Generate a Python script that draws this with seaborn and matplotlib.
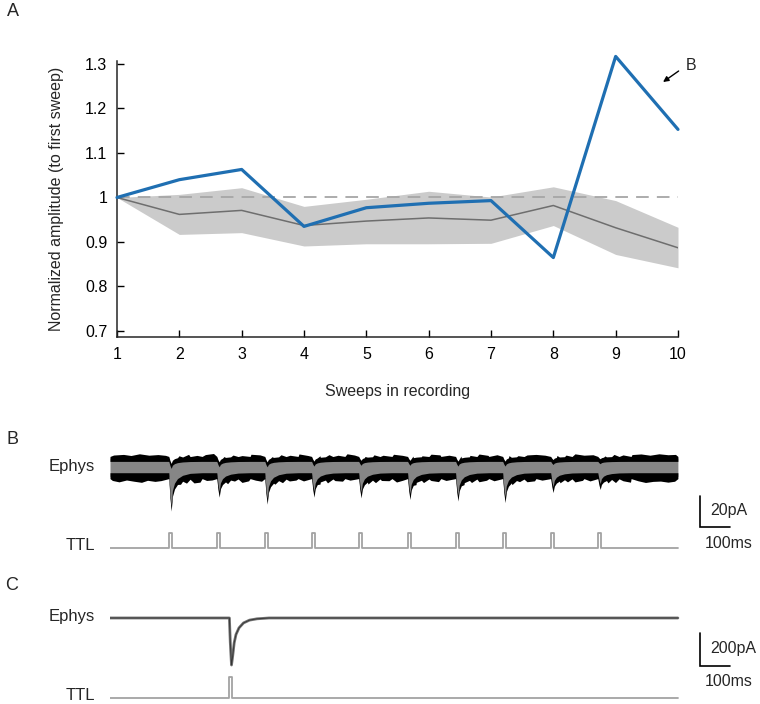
import numpy as np
import pandas as pd
import matplotlib
matplotlib.use("Agg")
import matplotlib.pyplot as plt
import seaborn as sns

sns.set_style("ticks")
plt.rcParams['font.family'] = ['Liberation Sans', 'DejaVu Sans']

# ---------------- data ----------------
sweeps = [1, 2, 3, 4, 5, 6, 7, 8, 9, 10]
example_amp = [1.0, 1.04, 1.063, 0.935, 0.977, 0.987, 0.993, 0.865, 1.317, 1.153]
mean_amp = [1.0, 0.962, 0.971, 0.937, 0.947, 0.954, 0.949, 0.982, 0.932, 0.887]
upper_amp = [1.0, 1.007, 1.022, 0.980, 0.996, 1.014, 1.001, 1.024, 0.993, 0.933]
lower_amp = [1.0, 0.917, 0.921, 0.891, 0.896, 0.896, 0.897, 0.937, 0.872, 0.842]
y_ticks = [0.7, 0.8, 0.9, 1.0, 1.1, 1.2, 1.3]
y_ticklabels = ["0.7", "0.8", "0.9", "1", "1.1", "1.2", "1.3"]

# panel B: train of 10 light pulses (ms) and peak of evoked dips (pA)
b_pulse_times = [197, 357, 517, 673, 830, 993, 1153, 1310, 1470, 1627]
b_dip_bottom = [21.0, 12.0, 16.5, 12.0, 12.5, 13.5, 14.5, 15.5, 9.0, 7.0]
b_dip_top = [4.5, 3.5, 3.5, 3.0, 2.5, 2.5, 3.0, 3.0, 2.0, 1.5]
b_top_level = 0.0       # pA, upper edge of overlaid sweeps
b_bottom_level = -11.9  # pA, lower edge of overlaid sweeps
b_duration = 1893       # ms
# dip time course (ms after pulse onset, fraction of peak)
dip_t = [-1, 3, 7, 11, 18, 28, 45, 70, 110]
dip_f = [0.0, 0.6, 1.0, 0.55, 0.32, 0.18, 0.08, 0.02, 0.0]
# noise excursions on the edges of the overlaid sweeps (ms, pA beyond the edge)
top_noise_t = [12, 45, 70, 98, 130, 160, 185, 230, 262, 290, 318, 345, 380, 410,
               440, 470, 500, 540, 570, 600, 630, 660, 700, 730, 760, 790, 815, 850,
               880, 910, 945, 975, 1010, 1040, 1070, 1100, 1130, 1170, 1200, 1230,
               1260, 1290, 1330, 1360, 1390, 1420, 1450, 1490, 1520, 1550, 1580, 1610,
               1650, 1680, 1710, 1740, 1770, 1800, 1830, 1860, 1885]
top_noise_h = [0.9, 1.3, 0.6, 1.7, 0.8, 1.2, 0.7, 1.1, 1.5, 0.7, 1.2, 1.9, 0.8, 1.1,
               0.6, 1.4, 1.0, 0.7, 1.3, 0.8, 1.6, 0.6, 1.0, 1.3, 0.8, 1.7, 0.9, 0.7,
               1.2, 0.8, 1.4, 0.7, 1.1, 0.6, 1.5, 1.0, 0.8, 1.3, 0.9, 1.6, 0.7, 1.1,
               1.4, 0.7, 1.0, 1.3, 0.8, 1.2, 1.0, 1.7, 0.8, 1.1, 0.7, 1.4, 1.0, 1.2,
               1.6, 0.8, 1.7, 1.1, 1.3]
bot_noise_t = [8, 30, 55, 80, 105, 125, 150, 170, 235, 255, 280, 300, 322, 340, 392,
               415, 440, 462, 485, 505, 550, 575, 598, 620, 645, 700, 725, 750, 775,
               800, 860, 885, 905, 930, 955, 975, 1020, 1045, 1070, 1095, 1120, 1180,
               1205, 1230, 1255, 1280, 1340, 1365, 1390, 1415, 1440, 1500, 1525, 1550,
               1575, 1600, 1660, 1685, 1710, 1735, 1760, 1785, 1810, 1835, 1860, 1882]
bot_noise_h = [1.2, 2.1, 0.9, 1.7, 2.4, 1.1, 1.8, 1.3, 1.1, 1.9, 2.5, 2.2, 1.2, 0.9,
               1.6, 1.0, 2.3, 1.4, 1.0, 1.7, 1.1, 1.8, 1.3, 0.9, 1.5, 1.2, 2.0, 1.1,
               1.6, 1.0, 1.4, 1.9, 1.0, 1.3, 2.2, 1.1, 1.3, 1.7, 1.0, 1.9, 1.2, 1.1,
               1.6, 1.8, 1.0, 1.4, 1.3, 1.1, 1.8, 1.4, 1.0, 1.2, 1.6, 2.0, 1.1, 1.5,
               1.7, 2.2, 1.3, 2.3, 1.4, 2.5, 1.8, 1.6, 2.3, 1.7]

# panel C: single pulse response
c_pulse_time = 397
c_t = [0, 398, 401, 405, 409, 414, 420, 430, 445, 465, 490, 530, 1893]
c_i = [0, 0, -150, -285, -230, -150, -100, -60, -30, -13, -5, 0, 0]
pulse_width = 10  # ms

# ---------------- layout helpers ----------------
W, H = 760, 704
fig = plt.figure(figsize=(W / 100, H / 100), dpi=100)


def ax_px(left, top, width, height):
    return fig.add_axes([left / W, 1 - (top + height) / H, width / W, height / H])


def ttl_trace(times, dur):
    t, v = [0], [0]
    for p in times:
        t += [p, p, p + pulse_width, p + pulse_width]
        v += [0, 1, 1, 0]
    t.append(dur)
    v.append(0)
    return t, v


FS = 11.5

# ---------------- panel A ----------------
axA = ax_px(117, 61, 561, 276)
axA.fill_between(sweeps, lower_amp, upper_amp, color="#cbcbcb", lw=0, zorder=1)
axA.plot([1, 10], [1, 1], color="#a6a6a6", lw=1.3, dashes=(7, 4.5), zorder=2)
dfA = pd.DataFrame({"sweep": sweeps, "mean": mean_amp, "example": example_amp})
sns.lineplot(data=dfA, x="sweep", y="mean", ax=axA, color="#6e6e6e", lw=1.1, zorder=3)
sns.lineplot(data=dfA, x="sweep", y="example", ax=axA, color="#1f6fb2", lw=2.3,
             zorder=4, clip_on=False)
axA.set_xlim(1, 10)
axA.set_ylim(0.6865, 1.3067)
axA.set_xticks(sweeps)
axA.set_yticks(y_ticks)
axA.set_yticklabels(y_ticklabels)
axA.tick_params(direction="in", length=5, width=1, labelsize=FS, pad=7, colors="black")
for s in ["top", "right"]:
    axA.spines[s].set_visible(False)
for s in ["left", "bottom"]:
    axA.spines[s].set_linewidth(1.1)
axA.set_xlabel("Sweeps in recording", fontsize=FS, labelpad=16)
axA.set_ylabel("Normalized amplitude (to first sweep)", fontsize=FS, labelpad=15)
axA.annotate("", xy=(9.76, 1.2595), xytext=(10.01, 1.2842),
             arrowprops=dict(arrowstyle="-|>", color="black", lw=1, mutation_scale=8,
                             shrinkA=0, shrinkB=0), annotation_clip=False)
axA.text(10.13, 1.2955, "B", fontsize=FS, ha="left", va="center", clip_on=False)

# ---------------- panel B ----------------
axB = ax_px(110, 440, 650, 90)
t_b = [0.0]
top_b = [b_top_level]
bot_b = [b_bottom_level]
for p, db, dt in zip(b_pulse_times, b_dip_bottom, b_dip_top):
    for tt, f in zip(dip_t, dip_f):
        t_b.append(p + tt)
        top_b.append(b_top_level - f * dt)
        bot_b.append(b_bottom_level - f * db)
t_b.append(b_duration)
top_b.append(b_top_level)
bot_b.append(b_bottom_level)
t_b = np.array(t_b)
top_b = np.array(top_b)
bot_b = np.array(bot_b)

# rough outer edges: envelope points merged with the noise excursions
t_top = np.array(sorted(set(t_b.tolist()) | set(top_noise_t)), dtype=float)
top_c = np.interp(t_top, t_b, top_b)
top_out = top_c + 1.0
idx = np.searchsorted(t_top, top_noise_t)
top_out[idx] = top_c[idx] + 1.0 + np.array(top_noise_h)

t_bot = np.array(sorted(set(t_b.tolist()) | set(bot_noise_t)), dtype=float)
bot_c = np.interp(t_bot, t_b, bot_b)
bot_out = bot_c - 1.4
idx = np.searchsorted(t_bot, bot_noise_t)
bot_out[idx] = bot_c[idx] - 1.4 - np.array(bot_noise_h)

axB.fill_between(t_b, bot_b, top_b, color="#868686", lw=0)
axB.fill_between(t_top, top_c - 2.2, top_out, color="black", lw=0)
axB.fill_between(t_bot, bot_out, bot_c + 2.4, color="black", lw=0)
axB.set_xlim(0, 2166.7)
axB.set_ylim(-46.45, 11.6)
axB.axis("off")
# scale bar 20 pA / 100 ms
axB.plot([1967, 1967, 2067], [-24.5, -44.5, -44.5], color="black", lw=1.2,
         clip_on=False, solid_joinstyle="miter")
axB.text(2000, -34.0, "20pA", fontsize=FS, ha="left", va="center")

axBt = ax_px(110, 525, 650, 30)
tb, vb = ttl_trace(b_pulse_times, b_duration)
sns.lineplot(x=tb, y=vb, ax=axBt, color="#a3a3a3", lw=1.3, sort=False, estimator=None)
axBt.set_xlim(0, 2166.7)
axBt.set_ylim(-0.467, 1.533)
axBt.axis("off")

# ---------------- panel C ----------------
axC = ax_px(110, 600, 650, 75)
sns.lineplot(x=c_t, y=c_i, ax=axC, color="#707070", lw=2.0, sort=False, estimator=None)
axC.plot(c_t, c_i, color="#333333", lw=0.6)
axC.set_xlim(0, 2166.7)
axC.set_ylim(-345.5, 109)
axC.axis("off")
axC.plot([1967, 1967, 2067], [-90.9, -290.9, -290.9], color="black", lw=1.2,
         clip_on=False, solid_joinstyle="miter")
axC.text(2000, -185, "200pA", fontsize=FS, ha="left", va="center")

axCt = ax_px(110, 670, 650, 35)
tc, vc = ttl_trace([c_pulse_time], b_duration)
sns.lineplot(x=tc, y=vc, ax=axCt, color="#a3a3a3", lw=1.3, sort=False, estimator=None)
axCt.set_xlim(0, 2166.7)
axCt.set_ylim(-0.333, 1.333)
axCt.axis("off")

# ---------------- figure texts ----------------
def ftext(x, y, s, **kw):
    fig.text(x / W, 1 - y / H, s, **kw)


ftext(13, 12, "A", fontsize=13, ha="center", va="center")
ftext(13, 440, "B", fontsize=13, ha="center", va="center")
ftext(12, 586, "C", fontsize=13, ha="center", va="center")
for y in (467, 617):
    ftext(95, y, "Ephys", fontsize=12, ha="right", va="center")
for y in (545, 695):
    ftext(95, y, "TTL", fontsize=12, ha="right", va="center")
ftext(705, 544, "100ms", fontsize=FS, ha="left", va="center")
ftext(705, 682, "100ms", fontsize=FS, ha="left", va="center")

fig.savefig("out.png", dpi=100)
